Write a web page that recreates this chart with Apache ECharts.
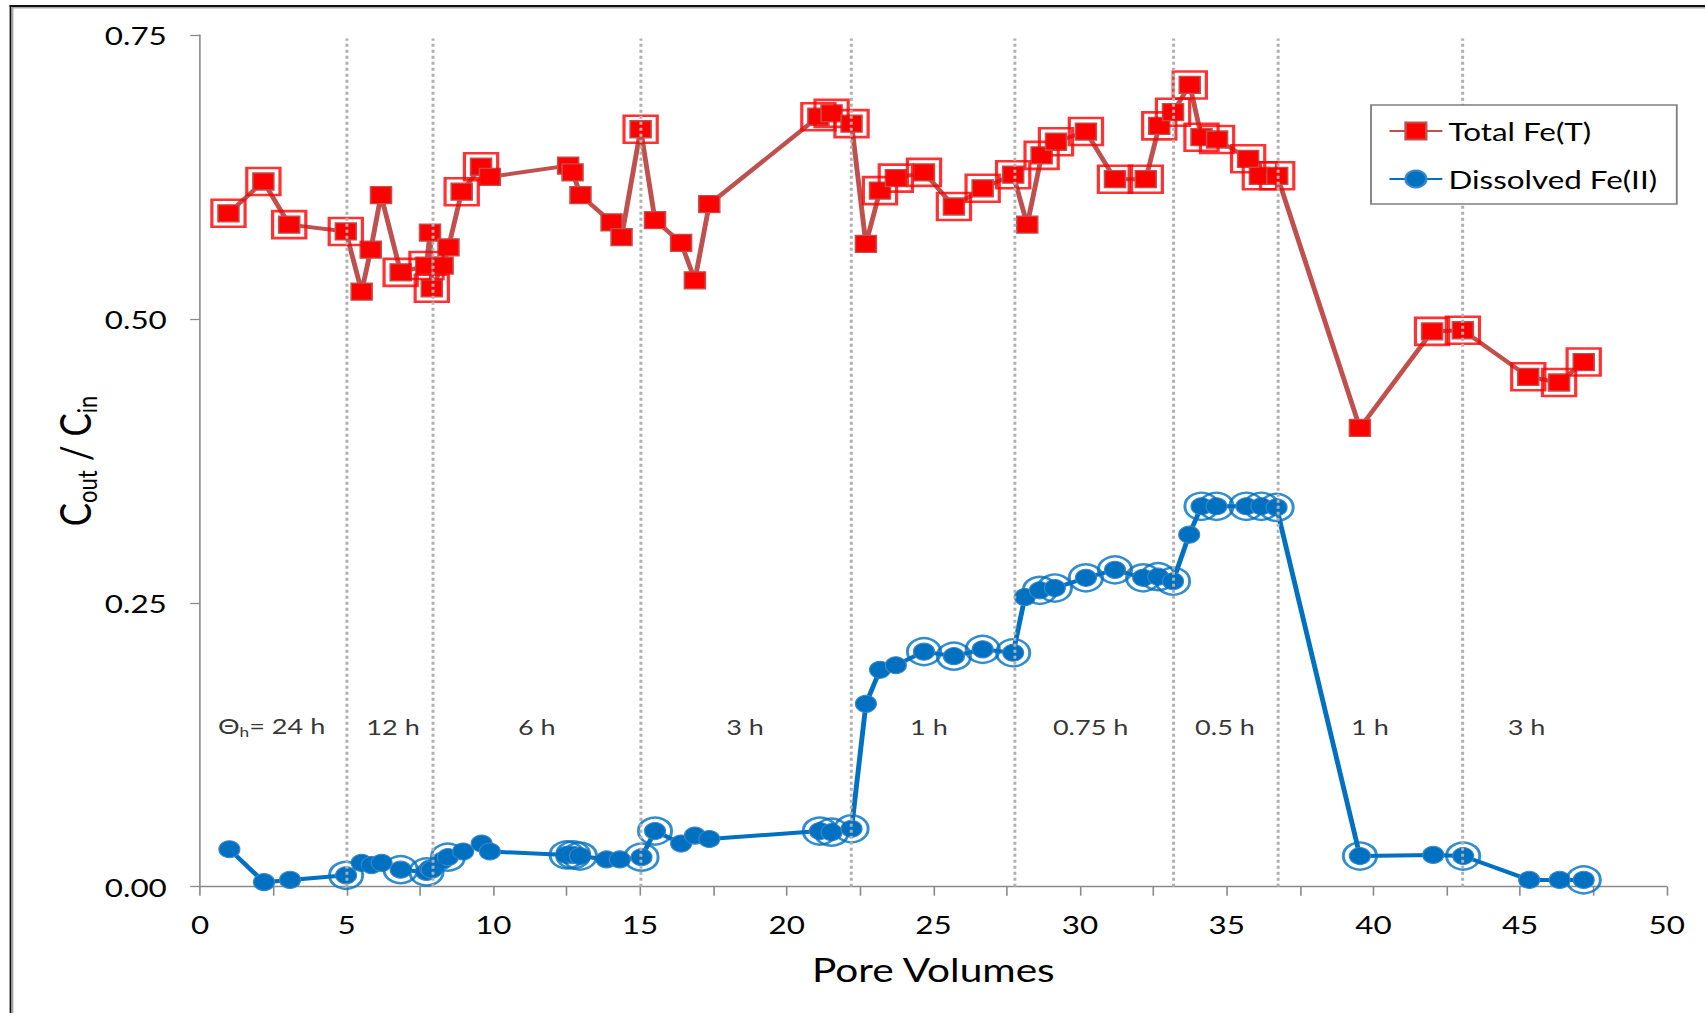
<!DOCTYPE html>
<html>
<head>
<meta charset="utf-8">
<script src="https://cdn.jsdelivr.net/npm/echarts@6/dist/echarts.min.js"></script>
<style>
  html, body { margin: 0; padding: 0; background: #fff; overflow: hidden; }
  #wrap { width: 1705px; height: 1013px; overflow: hidden; position: relative; }
  /* the figure is drawn narrow and widened, giving its wide lettering and oval markers */
  #chart { width: 1386px; height: 1013px; transform: scaleX(1.23016); transform-origin: 0 0; }
</style>
</head>
<body>
<div id="wrap"><div id="chart"></div></div>
<script>
// ---- Total Fe(T): pore volumes, C_out/C_in, and which samples carry an outer marker ----
const totalFePV = [0.97, 2.16, 3.04, 4.97, 5.51, 5.82, 6.17, 6.84, 7.72, 7.84, 7.90, 8.27, 8.47, 8.92, 9.58, 9.88,
  12.55, 12.70, 12.97, 14.03, 14.37, 15.02, 15.51, 16.40, 16.87, 17.36,
  21.08, 21.53, 22.21, 22.70, 23.18, 23.72, 24.68, 25.70, 26.68, 27.72,
  28.20, 28.69, 29.18, 30.20, 31.19, 32.24, 32.70, 33.17,
  33.74, 34.14, 34.67, 35.73, 36.13, 36.72,
  39.54, 42.00, 43.05, 45.28, 46.33, 47.17];
const totalFe = [0.593, 0.621, 0.583, 0.577, 0.524, 0.561, 0.609, 0.541, 0.547, 0.576, 0.527, 0.547, 0.563, 0.612, 0.634, 0.625,
  0.635, 0.629, 0.609, 0.585, 0.572, 0.667, 0.587, 0.567, 0.534, 0.601,
  0.678, 0.681, 0.672, 0.566, 0.613, 0.624, 0.629, 0.599, 0.615, 0.627,
  0.583, 0.644, 0.656, 0.665, 0.623, 0.623, 0.670, 0.682,
  0.706, 0.660, 0.658, 0.641, 0.626, 0.626,
  0.404, 0.489, 0.490, 0.449, 0.444, 0.462];
const totalFeRinged = [1, 1, 1, 1, 0, 0, 0, 1, 1, 0, 1, 0, 0, 1, 1, 0,
  0, 0, 0, 0, 0, 1, 0, 0, 0, 0,
  1, 1, 1, 0, 1, 1, 1, 1, 1, 1,
  0, 1, 1, 1, 1, 1, 1, 1,
  1, 1, 1, 1, 1, 1,
  0, 1, 1, 1, 1, 1];

// ---- Dissolved Fe(II) ----
const dissolvedFePV = [1.00, 2.18, 3.07, 4.98, 5.51, 5.85, 6.19, 6.84, 7.72, 7.84, 7.90, 8.27, 8.45, 8.97, 9.60, 9.88,
  12.50, 12.72, 12.95, 13.86, 14.31, 15.05, 15.51, 16.40, 16.87, 17.36,
  21.13, 21.53, 22.21, 22.70, 23.18, 23.72, 24.68, 25.70, 26.68, 27.72,
  28.12, 28.63, 29.14, 30.20, 31.19, 32.15, 32.66, 33.17,
  33.72, 34.14, 34.65, 35.67, 36.18, 36.70,
  39.54, 42.04, 43.06, 45.31, 46.35, 47.17];
const dissolvedFe = [0.033, 0.004, 0.006, 0.010, 0.021, 0.019, 0.021, 0.015, 0.013, 0.016, 0.015, 0.023, 0.026, 0.031, 0.038, 0.031,
  0.028, 0.028, 0.027, 0.024, 0.024, 0.026, 0.049, 0.038, 0.045, 0.042,
  0.049, 0.048, 0.051, 0.161, 0.191, 0.195, 0.207, 0.203, 0.209, 0.206,
  0.255, 0.261, 0.263, 0.272, 0.279, 0.272, 0.273, 0.269,
  0.310, 0.335, 0.335, 0.335, 0.335, 0.334,
  0.027, 0.028, 0.027, 0.006, 0.006, 0.006];
const dissolvedFeRinged = [0, 0, 0, 1, 0, 0, 0, 1, 1, 0, 0, 0, 1, 0, 0, 0,
  1, 1, 1, 0, 0, 1, 1, 0, 0, 0,
  1, 1, 1, 0, 0, 0, 1, 1, 1, 1,
  0, 1, 1, 1, 1, 1, 1, 1,
  0, 1, 1, 1, 1, 1,
  1, 0, 1, 0, 0, 1];

// ---- hydraulic residence time periods ----
const periodBoundaries = [5.0, 7.95, 15.02, 22.21, 27.78, 33.17, 36.73, 43.04];
const periodLabels = ['{t|Θ}{sub|h}{t|= 24 h}', '12 h', '6 h', '3 h', '1 h', '0.75 h', '0.5 h', '1 h', '3 h'];
const periodLabelPV = [2.44, 6.58, 11.48, 18.58, 24.85, 30.36, 34.94, 39.88, 45.22];
const periodLabelLevel = 0.141;

// ---- axes ----
const xTickLabels = ['0', '5', '10', '15', '20', '25', '30', '35', '40', '45', '50'];
const yTickLabels = ['0.00', '0.25', '0.50', '0.75'];

const FONT = 'Lato';
const RED_LINE = '#C0504D', RED = '#FF0000', BLUE = '#0070C0', AXIS = '#8a8a8a';

const pairs = (xs, ys) => xs.map((x, i) => [x, ys[i]]);
const ringed = (xs, ys, flags) => xs.map((x, i) => [x, ys[i]]).filter((_, i) => flags[i]);

const chart = echarts.init(document.getElementById('chart'), null, { renderer: 'svg' });

chart.setOption({
  animation: false,
  backgroundColor: '#fff',
  grid: { left: 162.6, right: 31.1, top: 35, bottom: 126.3, containLabel: false },
  legend: {
    data: ['Total Fe(T)', 'Dissolved Fe(II)'],
    orient: 'vertical',
    left: 1114.5, top: 105,
    itemWidth: 43, itemHeight: 21, itemGap: 22,
    padding: [13, 16, 12, 14],
    borderColor: '#7f7f7f', borderWidth: 1.5,
    backgroundColor: '#fff',
    textStyle: { fontFamily: FONT, fontSize: 25.5, color: '#000', lineHeight: 21 },
    z: 10
  },
  xAxis: {
    type: 'value', min: 0, max: 50, interval: 2.5,
    name: 'Pore Volumes', nameLocation: 'middle', nameGap: 66,
    nameTextStyle: { fontFamily: FONT, fontSize: 33, color: '#000' },
    axisLine: { show: true, onZero: false, lineStyle: { color: AXIS, width: 1.3 } },
    axisTick: { show: true, length: 9, lineStyle: { color: AXIS, width: 1.3 } },
    axisLabel: {
      margin: 24, fontFamily: FONT, fontSize: 25.5, color: '#000',
      formatter: v => { const s = String(Math.round(v * 100) / 100); return xTickLabels.includes(s) ? s : ''; }
    },
    splitLine: { show: false }
  },
  yAxis: {
    type: 'value', min: 0, max: 0.75, interval: 0.25,
    axisLine: { show: true, onZero: false, lineStyle: { color: AXIS, width: 1.3 } },
    axisTick: { show: true, length: 8, lineStyle: { color: AXIS, width: 1.3 } },
    axisLabel: {
      margin: 27, fontFamily: FONT, fontSize: 25.5, color: '#000',
      formatter: v => yTickLabels[Math.round(v / 0.25)] || ''
    },
    splitLine: { show: false }
  },
  graphic: [
    // frame
    { type: 'rect', left: 7.8, top: 5, shape: { width: 1.6, height: 1010 }, style: { fill: '#111' }, silent: true },
    { type: 'rect', left: 9.4, top: 6.8, shape: { width: 1.5, height: 1010 }, style: { fill: '#a8a8a8' }, silent: true },
    { type: 'rect', left: 7.8, top: 5, shape: { width: 1400, height: 1.9 }, style: { fill: '#111' }, silent: true },
    { type: 'rect', left: 9.4, top: 6.9, shape: { width: 1400, height: 1.7 }, style: { fill: '#a8a8a8' }, silent: true },
    // y axis title
    {
      type: 'text', x: 62, y: 461, rotation: Math.PI / 2, silent: true,
      style: {
        text: '{c|C}{s|out}{c| / C}{s|in}',
        align: 'center', verticalAlign: 'middle', fill: '#000',
        rich: {
          c: { fontFamily: FONT, fontSize: 35, fill: '#000', verticalAlign: 'bottom', padding: [0, 0, 4, 0] },
          s: { fontFamily: FONT, fontSize: 22, fill: '#000', verticalAlign: 'bottom' }
        }
      }
    }
  ],
  series: [
    {
      name: 'period', type: 'scatter', z: 1, silent: true,
      symbolSize: 0,
      data: periodLabelPV.map((x, i) => ({ value: [x, periodLabelLevel], name: periodLabels[i] })),
      label: {
        show: true, position: 'inside', formatter: p => p.name,
        fontFamily: FONT, fontSize: 22, color: '#000',
        rich: {
          t: { fontFamily: FONT, fontSize: 22, color: '#000', verticalAlign: 'bottom', padding: [0, 0, 3, 0] },
          sub: { fontFamily: FONT, fontSize: 14, color: '#000', verticalAlign: 'bottom' }
        }
      },
      markLine: {
        silent: true, symbol: 'none', animation: false,
        label: { show: false },
        lineStyle: { color: '#b0b0b0', width: 2.4, type: [3, 3] },
        data: periodBoundaries.map(x => [{ coord: [x, 0] }, { coord: [x, 0.747] }])
      }
    },
    {
      name: 'Total Fe(T)', type: 'line', z: 3,
      data: pairs(totalFePV, totalFe),
      symbol: 'rect', symbolSize: 17, showSymbol: true,
      lineStyle: { color: RED_LINE, width: 4 },
      itemStyle: { color: RED, borderColor: RED_LINE, borderWidth: 1.3 }
    },
    {
      name: 'Dissolved Fe(II)', type: 'line', z: 3,
      data: pairs(dissolvedFePV, dissolvedFe),
      symbol: 'circle', symbolSize: 17, showSymbol: true,
      lineStyle: { color: BLUE, width: 4 },
      itemStyle: { color: BLUE, borderColor: '#3a86c8', borderWidth: 1 }
    },
    {
      name: 'Total Fe(T) ring', type: 'scatter', z: 4, silent: true,
      data: ringed(totalFePV, totalFe, totalFeRinged),
      symbol: 'rect', symbolSize: 27,
      itemStyle: { color: 'rgba(0,0,0,0)', borderColor: RED, borderWidth: 2.6 }
    },
    {
      name: 'Dissolved Fe(II) ring', type: 'scatter', z: 4, silent: true,
      data: ringed(dissolvedFePV, dissolvedFe, dissolvedFeRinged),
      symbol: 'circle', symbolSize: 27,
      itemStyle: { color: 'rgba(0,0,0,0)', borderColor: BLUE, borderWidth: 2.4 }
    }
  ]
});
</script>
</body>
</html>
